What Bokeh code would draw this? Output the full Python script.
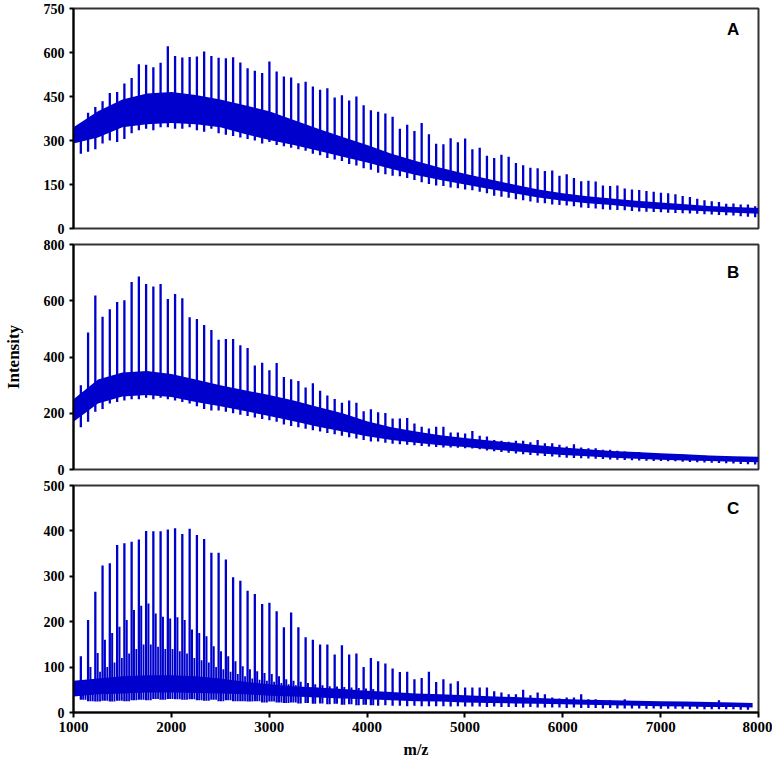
import numpy as np
from bokeh.plotting import figure
from bokeh.models import Range1d, Label, FixedTicker
from bokeh.layouts import column
from bokeh.embed import file_html
from bokeh.resources import INLINE

# ---------------- data ----------------
# m/z of the main peak series (repeat unit ~74)
PEAK_MZ = [1075, 1149, 1223, 1297, 1371, 1446, 1520, 1594, 1668, 1742,
           1816, 1890, 1964, 2038, 2112, 2187, 2261, 2335, 2409, 2483,
           2557, 2631, 2705, 2779, 2853, 2928, 3002, 3076, 3150, 3224,
           3298, 3372, 3446, 3520, 3594, 3669, 3743, 3817, 3891, 3965,
           4039, 4113, 4187, 4261, 4335, 4410, 4484, 4558, 4632, 4706,
           4780, 4854, 4928, 5002, 5076, 5151, 5225, 5299, 5373, 5447,
           5521, 5595, 5669, 5743, 5817, 5892, 5966, 6040, 6114, 6188,
           6262, 6336, 6410, 6484, 6558, 6633, 6707, 6781, 6855, 6929,
           7003, 7077, 7151, 7225, 7299, 7374, 7448, 7522, 7596, 7670,
           7744, 7818, 7892, 7966]
SUB_OFFSET = 24      # satellite series, m/z above main peak
THIRD_OFFSET = 48    # second satellite series

BAND_MZ = [1000, 1250, 1500, 1750, 2000, 2250, 2500, 2750, 3000, 3250,
           3500, 3750, 4000, 4250, 4500, 4750, 5000, 5250, 5500, 5750,
           6000, 6250, 6500, 6750, 7000, 7250, 7500, 7750, 8000]
C_BAND_MZ = [1000, 1250, 1500, 1750, 2000, 2250, 2500, 2750, 3000, 3250,
             3500, 3750, 4000, 4250, 4500, 4750, 5000, 5250, 5500, 5750,
             6000, 6250, 6500, 6750, 7000, 7250, 7500, 7750, 7940]

# Panel A
A_PEAK = [355, 395, 414, 434, 462, 465, 494, 513, 560, 558,
          550, 565, 621, 588, 583, 585, 586, 603, 588, 582,
          580, 584, 566, 546, 538, 530, 569, 535, 518, 515,
          495, 500, 484, 473, 478, 447, 454, 436, 450, 420,
          403, 398, 392, 381, 340, 354, 332, 360, 321, 289,
          287, 308, 294, 307, 270, 275, 248, 240, 251, 245,
          223, 216, 207, 205, 196, 198, 180, 185, 172, 161,
          163, 160, 147, 145, 147, 136, 133, 131, 128, 125,
          122, 120, 117, 111, 107, 101, 96, 93, 90, 84,
          85, 82, 82, 76]
A_DIP = [255, 262, 270, 290, 300, 295, 305, 325, 335, 340,
         335, 345, 345, 340, 340, 345, 335, 330, 340, 325,
         320, 315, 310, 305, 300, 290, 295, 285, 280, 275,
         270, 265, 255, 250, 240, 235, 230, 220, 215, 205,
         200, 190, 185, 180, 178, 172, 165, 158, 152, 147,
         145, 140, 137, 133, 130, 125, 120, 112, 108, 105,
         100, 96, 92, 88, 86, 82, 80, 78, 76, 72,
         70, 68, 66, 64, 63, 62, 60, 58, 57, 56,
         55, 54, 53, 52, 51, 50, 49, 48, 46, 45,
         44, 42, 40, 38]
A_HI = [345, 400, 440, 460, 465, 455, 440, 420, 400, 370,
        340, 312, 285, 255, 230, 207, 187, 168, 150, 133,
        120, 110, 102, 95, 89, 83, 77, 73, 70]
A_LO = [290, 310, 345, 355, 360, 355, 345, 322, 302, 285,
        265, 245, 225, 203, 182, 165, 150, 135, 120, 106,
        95, 86, 80, 72, 66, 62, 58, 54, 50]

# Panel B
B_PEAK = [300, 487, 619, 543, 570, 596, 602, 667, 686, 660,
          651, 660, 606, 624, 609, 541, 535, 514, 496, 461,
          464, 464, 442, 432, 370, 380, 353, 379, 329, 321,
          315, 292, 307, 280, 263, 251, 237, 245, 237, 207,
          214, 204, 201, 181, 181, 183, 164, 152, 146, 152,
          152, 132, 132, 128, 137, 120, 117, 105, 102, 99,
          102, 102, 97, 105, 93, 93, 88, 82, 90, 78,
          76, 76, 70, 70, 67, 64, 62, 62, 58, 58,
          55, 55, 53, 53, 50, 50, 49, 47, 47, 43,
          43, 41, 39, 41]
B_DIP = [150, 170, 205, 215, 235, 240, 245, 250, 250, 255,
         250, 255, 250, 245, 240, 235, 225, 215, 210, 210,
         205, 200, 195, 190, 185, 180, 175, 170, 160, 155,
         150, 145, 140, 135, 130, 125, 120, 115, 110, 105,
         100, 100, 95, 92, 90, 88, 86, 84, 82, 80,
         78, 78, 77, 76, 75, 72, 68, 65, 62, 60,
         57, 54, 52, 50, 48, 46, 44, 42, 41, 40,
         39, 38, 37, 36, 35, 34, 33, 32, 31, 30,
         30, 29, 29, 28, 27, 26, 25, 24, 23, 22,
         21, 20, 19, 18]
B_HI = [250, 320, 345, 350, 340, 320, 300, 282, 265, 245,
        222, 200, 172, 150, 135, 122, 112, 103, 95, 86,
        78, 72, 66, 62, 58, 54, 50, 47, 45]
B_LO = [170, 235, 260, 265, 258, 240, 225, 208, 190, 172,
        152, 135, 118, 105, 95, 86, 80, 72, 65, 58,
        52, 47, 42, 38, 35, 32, 30, 28, 26]

# Panel C
C_PEAK = [124, 204, 266, 324, 329, 369, 373, 376, 381, 400,
          399, 399, 403, 406, 393, 405, 391, 382, 352, 352,
          337, 298, 290, 268, 261, 239, 242, 223, 188, 220,
          188, 166, 160, 150, 150, 128, 148, 128, 130, 100,
          120, 113, 108, 97, 89, 90, 73, 76, 90, 67,
          73, 64, 69, 55, 55, 55, 55, 47, 44, 40,
          40, 50, 38, 44, 40, 33, 31, 33, 33, 40,
          29, 29, 27, 27, 25, 29, 25, 25, 23, 23,
          23, 22, 23, 20, 20, 20, 20, 20, 27, 18,
          17, 17, 15]
C_SUB = [65, 100, 131, 160, 175, 189, 204, 226, 235, 240,
         218, 211, 207, 210, 204, 183, 175, 168, 146, 135,
         124, 113, 102, 95, 91, 87, 85, 80, 73, 70,
         68, 65, 62, 60, 58, 57, 56, 55, 54, 53, 52]
C_THIRD = [50, 70, 90, 100, 110, 120, 130, 140, 150, 150,
           145, 140, 140, 135, 130, 120, 115, 110, 100, 95,
           90, 85, 80, 75, 72, 70, 68, 65, 62, 60]
C_DIP = [28, 25, 24, 26, 24, 26, 25, 27, 28, 27,
         30, 28, 30, 29, 28, 29, 27, 26, 28, 25,
         27, 25, 25, 24, 25, 22, 24, 22, 21, 22,
         20, 21, 19, 20, 18, 19, 17, 18, 16, 17,
         16, 15, 16, 15, 15, 14, 15, 14, 14, 14,
         14, 13, 14, 13, 13, 13, 12, 13, 12, 12,
         12, 11, 12, 11, 11, 11, 11, 10, 11, 10,
         10, 10, 9, 10, 9, 9, 9, 9, 8, 9,
         8, 8, 8, 8, 7, 8, 7, 7, 7, 7,
         7, 6, 6]
C_HI = [70, 75, 80, 82, 82, 80, 75, 68, 62, 58,
        55, 52, 48, 45, 42, 40, 38, 36, 34, 32,
        30, 28, 27, 26, 25, 24, 23, 22, 21]
C_LO = [35, 40, 42, 44, 44, 43, 42, 40, 37, 35,
        33, 31, 29, 27, 25, 24, 22, 21, 20, 19,
        18, 17, 16, 15, 14, 13, 12, 12, 11]

A_TICKS = [0, 150, 300, 450, 600, 750]
B_TICKS = [0, 200, 400, 600, 800]
C_TICKS = [0, 100, 200, 300, 400, 500]
X_TICKS = [1000, 2000, 3000, 4000, 5000, 6000, 7000, 8000]

# ---------------- styling ----------------
BLUE = "#0000CC"
SERIF = "Liberation Serif"
SANS = "Liberation Sans"
W = 772
LEFT = 70
FRAME_W = 688


def panel(ymax, yticks, height, btop, bbottom, letter, letter_y, show_x=False, ylabel=None):
    p = figure(width=W, height=height, output_backend="svg", toolbar_location=None,
               x_range=Range1d(1000, 8000), y_range=Range1d(0, ymax),
               min_border_left=LEFT, min_border_right=W - LEFT - FRAME_W,
               min_border_top=btop, min_border_bottom=bbottom)
    p.grid.visible = False
    p.background_fill_color = "white"
    p.border_fill_color = "white"
    p.outline_line_color = "#333333"
    p.outline_line_width = 2
    p.outline_line_alpha = 1.0

    ya = p.yaxis[0]
    ya.ticker = FixedTicker(ticks=yticks)
    ya.axis_line_color = "black"
    ya.axis_line_width = 2
    ya.major_tick_line_color = "black"
    ya.major_tick_line_width = 2
    ya.major_tick_out = 4
    ya.major_tick_in = 0
    ya.minor_tick_line_color = None
    ya.major_label_text_font = SERIF
    ya.major_label_text_font_style = "bold"
    ya.major_label_text_font_size = "14px"
    ya.major_label_text_color = "black"
    ya.major_label_standoff = 5
    if ylabel:
        ya.axis_label = ylabel
        ya.axis_label_text_font = SERIF
        ya.axis_label_text_font_style = "bold"
        ya.axis_label_text_font_size = "17px"
        ya.axis_label_text_color = "black"
        ya.axis_label_standoff = 18

    xa = p.xaxis[0]
    if show_x:
        xa.ticker = FixedTicker(ticks=X_TICKS)
        xa.axis_line_color = "black"
        xa.axis_line_width = 2
        xa.major_tick_line_color = "black"
        xa.major_tick_line_width = 2
        xa.major_tick_out = 5
        xa.major_tick_in = 0
        xa.minor_tick_line_color = None
        xa.major_label_text_font = SERIF
        xa.major_label_text_font_style = "bold"
        xa.major_label_text_font_size = "15px"
        xa.major_label_text_color = "black"
        xa.major_label_standoff = 4
        xa.axis_label = "m/z"
        xa.axis_label_text_font = SERIF
        xa.axis_label_text_font_style = "bold"
        xa.axis_label_text_font_size = "16px"
        xa.axis_label_text_color = "black"
        xa.axis_label_standoff = 6
    else:
        xa.visible = False

    p.add_layout(Label(x=7741, y=letter_y, text=letter, text_font=SANS,
                       text_font_style="bold", text_font_size="17px",
                       text_align="center", text_baseline="middle",
                       text_color="black"))
    return p


def draw(p, band_x, lo, hi, peak_x, dip, peak):
    p.varea(x=band_x, y1=lo, y2=hi, fill_color=BLUE, fill_alpha=1.0)
    p.segment(x0=peak_x, y0=dip, x1=peak_x, y1=peak,
              line_color=BLUE, line_width=2.3)


# figure heights: A frame 16..236, B frame 252..477, C frame 493..720 (page px)
pa = panel(750, A_TICKS, 236, 8, 8, "A", 680)
draw(pa, BAND_MZ, A_LO, A_HI, PEAK_MZ, A_DIP, A_PEAK)

pb = panel(800, B_TICKS, 241, 8, 8, "B", 700, ylabel="Intensity")
draw(pb, BAND_MZ, B_LO, B_HI, PEAK_MZ, B_DIP, B_PEAK)

pc = panel(500, C_TICKS, 289, 8, 54, "C", 450, show_x=True)
cx = PEAK_MZ[:len(C_PEAK)]
draw(pc, C_BAND_MZ, C_LO, C_HI, cx, C_DIP, C_PEAK)
sub_x = np.array(PEAK_MZ[:len(C_SUB)]) + SUB_OFFSET
third_x = np.array(PEAK_MZ[:len(C_THIRD)]) + THIRD_OFFSET
pc.segment(x0=sub_x, y0=C_DIP[:len(C_SUB)], x1=sub_x, y1=C_SUB,
           line_color=BLUE, line_width=2.0)
pc.segment(x0=third_x, y0=C_DIP[:len(C_THIRD)], x1=third_x, y1=C_THIRD,
           line_color=BLUE, line_width=1.8)

layout = column(pa, pb, pc, spacing=0)
open("out.html", "w").write(file_html(layout, INLINE))
